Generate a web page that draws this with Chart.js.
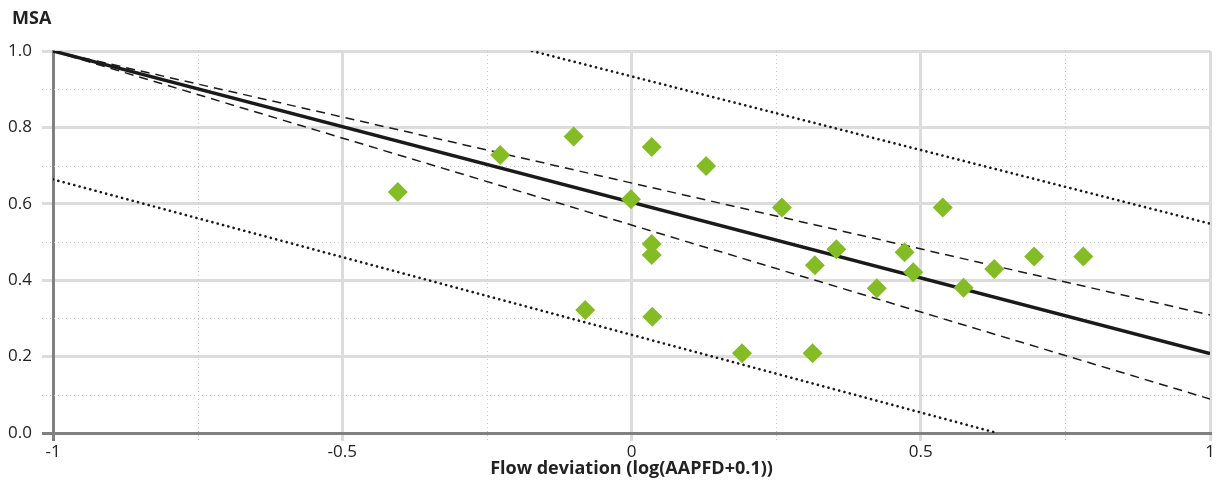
<!DOCTYPE html>
<html>
<head>
<meta charset="utf-8">
<script src="https://cdn.jsdelivr.net/npm/chart.js@4"></script>
<style>
  html, body { margin: 0; padding: 0; background: #fff; }
  #wrap { width: 1220px; height: 484px; }
</style>
</head>
<body>
<div id="wrap"><canvas id="msaChart"></canvas></div>
<script>
// observed sites
const siteX = [-0.404, -0.227, -0.100, 0.035, 0.129, -0.001, 0.035, 0.035, -0.080, 0.036, 0.191, 0.313,
  0.260, 0.317, 0.354, 0.424, 0.472, 0.487, 0.538, 0.574, 0.627, 0.696, 0.781];
const siteY = [0.631, 0.728, 0.776, 0.749, 0.699, 0.612, 0.495, 0.466, 0.322, 0.304, 0.209, 0.209,
  0.590, 0.439, 0.481, 0.379, 0.473, 0.421, 0.590, 0.380, 0.429, 0.462, 0.462];

// regression line and bands
const fitX = [-1, 1];
const fitY = [1.0, 0.208];
const confUpperY = [1.0, 0.309];
const confLowerY = [1.0, 0.089];
const predUpperX = [-0.172, 1];
const predUpperY = [1.0, 0.548];
const predLowerX = [-1, 0.632];
const predLowerY = [0.664, 0];

// tick labels
const xTickLabels = ["-1", "-0.5", "0", "0.5", "1"];
const yTickLabels = ["0.0", "0.2", "0.4", "0.6", "0.8", "1.0"];
const yAxisTitle = "MSA";

const FONT = "'Open Sans', 'Noto Sans', sans-serif";
const majorGrid = "#dcdcdc";
const minorGrid = "#c8c8c8";
const axisGray = "#808080";

const pts = (xs, ys) => xs.map((x, i) => ({ x, y: ys[i] }));

const isMajorX = v => Math.abs(v * 2 - Math.round(v * 2)) < 1e-6;
const isMajorY = v => Math.round(v * 10) % 2 === 0;

// dotted minor gridlines (0.25 on x, 0.1 on y) + the "MSA" label above the y axis
const extrasPlugin = {
  id: "extras",
  beforeDatasetsDraw(chart) {
    const { ctx, chartArea, scales } = chart;
    ctx.save();
    ctx.strokeStyle = minorGrid;
    ctx.lineWidth = 1;
    ctx.setLineDash([1, 3]);
    for (let i = 1; i < 10; i += 2) {
      const y = Math.round(scales.y.getPixelForValue(i / 10)) + 0.5;
      ctx.beginPath();
      ctx.moveTo(chartArea.left - 11, y);
      ctx.lineTo(chartArea.right, y);
      ctx.stroke();
    }
    for (let v = -0.75; v < 1; v += 0.5) {
      const x = Math.round(scales.x.getPixelForValue(v)) + 0.5;
      ctx.beginPath();
      ctx.moveTo(x, chartArea.top);
      ctx.lineTo(x, chartArea.bottom + 8);
      ctx.stroke();
    }
    ctx.restore();
  },
  afterDraw(chart) {
    const { ctx } = chart;
    ctx.save();
    ctx.fillStyle = "#222";
    ctx.font = "bold 18px " + FONT;
    ctx.textAlign = "left";
    ctx.textBaseline = "middle";
    ctx.fillText(yAxisTitle, 12, 19);
    ctx.restore();
  }
};

const lineSet = (data, width, dash, cap) => ({
  type: "line",
  data,
  showLine: true,
  borderColor: "#1a1a1a",
  borderWidth: width,
  borderDash: dash,
  borderCapStyle: cap || "butt",
  pointRadius: 0,
  fill: false
});

new Chart(document.getElementById("msaChart"), {
  type: "scatter",
  data: {
    datasets: [
      {
        data: pts(siteX, siteY),
        pointStyle: "rectRot",
        pointRadius: 10,
        pointBorderWidth: 0,
        backgroundColor: "#84bc26",
        borderColor: "#84bc26"
      },
      lineSet(pts(fitX, fitY), 3.5, []),
      lineSet(pts(fitX, confUpperY), 1.5, [9, 6]),
      lineSet(pts(fitX, confLowerY), 1.5, [9, 6]),
      lineSet(pts(predUpperX, predUpperY), 2.6, [0.1, 5.4], "round"),
      lineSet(pts(predLowerX, predLowerY), 2.6, [0.1, 5.4], "round")
    ]
  },
  options: {
    responsive: true,
    maintainAspectRatio: false,
    animation: false,
    layout: { padding: { left: 0, right: 8, top: 51, bottom: 0 } },
    plugins: {
      legend: { display: false },
      tooltip: { enabled: false },
      title: { display: false }
    },
    scales: {
      x: {
        type: "linear",
        min: -1,
        max: 1,
        afterFit: s => { s.height = 51; s.paddingLeft = 0; s.paddingRight = 0; },
        ticks: {
          stepSize: 0.25,
          autoSkip: false,
          maxRotation: 0,
          padding: 1,
          color: "#222",
          font: { family: FONT, size: 17 },
          callback: v => isMajorX(v) ? xTickLabels[Math.round((v + 1) * 2)] : ""
        },
        grid: {
          color: c => isMajorX(c.tick.value) ? majorGrid : "rgba(0,0,0,0)",
          lineWidth: 3,
          tickLength: 8,
          tickColor: c => c.tick.value === -1 ? axisGray : (isMajorX(c.tick.value) ? majorGrid : "rgba(0,0,0,0)")
        },
        border: { color: axisGray, width: 3 },
        title: {
          display: true,
          text: "Flow deviation (log(AAPFD+0.1))",
          color: "#222",
          font: { family: FONT, size: 18, weight: "bold", lineHeight: 1.2 },
          padding: { top: 0, bottom: 4 }
        }
      },
      y: {
        min: 0,
        max: 1,
        afterFit: s => { s.width = 53; },
        ticks: {
          stepSize: 0.1,
          padding: 10,
          color: "#222",
          font: { family: FONT, size: 17 },
          callback: v => isMajorY(v) ? yTickLabels[Math.round(v * 5)] : ""
        },
        grid: {
          color: c => isMajorY(c.tick.value) ? majorGrid : "rgba(0,0,0,0)",
          lineWidth: 3,
          tickLength: 11,
          tickColor: c => Math.round(c.tick.value * 10) === 0 ? axisGray : (isMajorY(c.tick.value) ? majorGrid : "rgba(0,0,0,0)")
        },
        border: { color: axisGray, width: 3 }
      }
    }
  },
  plugins: [extrasPlugin]
});
</script>
</body>
</html>
